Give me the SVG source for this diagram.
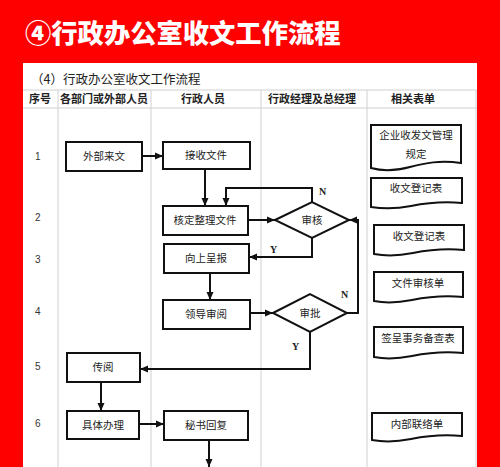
<svg xmlns="http://www.w3.org/2000/svg" width="500" height="467" viewBox="0 0 500 467">
<defs>
<style>
.t{font-family:"Noto Sans CJK SC","Liberation Sans",sans-serif;fill:#222;}
.box{fill:#fff;stroke:#111;stroke-width:2;}
.doc{fill:#fff;stroke:#111;stroke-width:2;}
.grid{stroke:#d0d0d0;stroke-width:1;fill:none;}
.c{fill:none;stroke:#111;stroke-width:2;}
.lbl{font-family:"Liberation Serif",serif;font-weight:bold;font-size:10px;fill:#222;}
.num{font-family:"Liberation Sans",sans-serif;font-size:10px;fill:#333;}
.bt{font-size:10.5px;text-anchor:middle;}
.hd{font-size:11px;font-weight:bold;text-anchor:middle;}
</style>
<marker id="a" markerUnits="userSpaceOnUse" markerWidth="9" markerHeight="8" refX="8" refY="4" orient="auto"><path d="M0,0.5 L8,4 L0,7.5 Z" fill="#111"/></marker>
</defs>
<rect width="500" height="467" fill="#fe0000"/>
<text x="25" y="43" font-family="Noto Sans CJK SC,sans-serif" font-weight="900" font-size="26.3" fill="#fff">④行政办公室收文工作流程</text>
<rect x="23" y="63" width="454" height="410" fill="#fff"/>
<text class="t" x="31" y="84" font-size="12.5">（4）行政办公室收文工作流程</text>
<g id="grid">
<path class="grid" d="M23,90 H477 M23,108 H477 M58,90 V467 M151,90 V467 M261,90 V467 M367,90 V467 M476,90 V467"/>
</g>
<g id="header">
<text class="t hd" x="40" y="103">序号</text>
<text class="t hd" x="104" y="103">各部门或外部人员</text>
<text class="t hd" x="203" y="103">行政人员</text>
<text class="t hd" x="312" y="103">行政经理及总经理</text>
<text class="t hd" x="413" y="103">相关表单</text>
</g>
<g id="rows">
<text class="num" x="35" y="160">1</text>
<text class="num" x="35" y="221">2</text>
<text class="num" x="35" y="263">3</text>
<text class="num" x="35" y="315">4</text>
<text class="num" x="35" y="370">5</text>
<text class="num" x="35" y="427">6</text>
</g>
<g id="connectors">
<path class="c" d="M142,156 H163" marker-end="url(#a)"/>
<path class="c" d="M205,169 V206" marker-end="url(#a)"/>
<path class="c" d="M312,202 V188 H226 V206" marker-end="url(#a)"/>
<path class="c" d="M248,220 H275" marker-end="url(#a)"/>
<path class="c" d="M312,238 V257 H249" marker-end="url(#a)"/>
<path class="c" d="M210,273 V300" marker-end="url(#a)"/>
<path class="c" d="M250,313 H273" marker-end="url(#a)"/>
<path class="c" d="M347,313 H358 V220 H349" marker-end="url(#a)"/>
<path class="c" d="M310,332 V369 H140" marker-end="url(#a)"/>
<path class="c" d="M101,382 V411" marker-end="url(#a)"/>
<path class="c" d="M139,424 H164" marker-end="url(#a)"/>
<path class="c" d="M209,440 V467" marker-end="url(#a)"/>
<text class="lbl" x="319" y="195">N</text>
<text class="lbl" x="270" y="253">Y</text>
<text class="lbl" x="341" y="298">N</text>
<text class="lbl" x="292" y="350">Y</text>
</g>
<g id="n1"><rect class="box" x="66" y="142" width="76" height="29"/><text class="t bt" x="104" y="160">外部来文</text></g>
<g id="n2"><rect class="box" x="163" y="142" width="87" height="27"/><text class="t bt" x="206" y="159">接收文件</text></g>
<g id="n3"><rect class="box" x="163" y="206" width="85" height="29"/><text class="t bt" x="205" y="224">核定整理文件</text></g>
<g id="n4"><rect class="box" x="164" y="244" width="85" height="29"/><text class="t bt" x="206" y="262">向上呈报</text></g>
<g id="n5"><rect class="box" x="163" y="300" width="87" height="29"/><text class="t bt" x="206" y="318">领导审阅</text></g>
<g id="n6"><rect class="box" x="67" y="353" width="73" height="29"/><text class="t bt" x="103" y="371">传阅</text></g>
<g id="n7"><rect class="box" x="67" y="411" width="72" height="28"/><text class="t bt" x="103" y="429">具体办理</text></g>
<g id="n8"><rect class="box" x="164" y="411" width="84" height="29"/><text class="t bt" x="206" y="429">秘书回复</text></g>
<g id="d1"><path class="box" d="M275,220 L312,202 L349,220 L312,238 Z"/><text class="t bt" x="312" y="224">审核</text></g>
<g id="d2"><path class="box" d="M273,313 L310,294 L347,313 L310,332 Z"/><text class="t bt" x="310" y="317">审批</text></g>
<g id="f1"><path class="doc" d="M371,125 H461 V163 C440,160 425,163 410,167 C395,171 382,171 371,168 Z"/><text class="t bt" x="416" y="139">企业收发文管理</text><text class="t bt" x="416" y="158">规定</text></g>
<g id="f2"><path class="doc" d="M371,178 H462 V203 C441,201 426,203 411,206 C396,209 383,209 371,207 Z"/><text class="t bt" x="416" y="192">收文登记表</text></g>
<g id="f3"><path class="doc" d="M374,225 H464 V250 C443,248 428,250 413,253 C398,256 385,256 374,254 Z"/><text class="t bt" x="419" y="240">收文登记表</text></g>
<g id="f4"><path class="doc" d="M374,272 H463 V297 C442,295 427,297 412,300 C397,303 384,303 374,301 Z"/><text class="t bt" x="418" y="287">文件审核单</text></g>
<g id="f5"><path class="doc" d="M374,327 H463 V353 C442,351 427,353 412,356 C397,359 384,359 374,357 Z"/><text class="t bt" x="418" y="342">签呈事务备查表</text></g>
<g id="f6"><path class="doc" d="M372,413 H462 V436 C441,434 426,436 411,439 C396,442 383,442 372,440 Z"/><text class="t bt" x="417" y="428">内部联络单</text></g>
</svg>
